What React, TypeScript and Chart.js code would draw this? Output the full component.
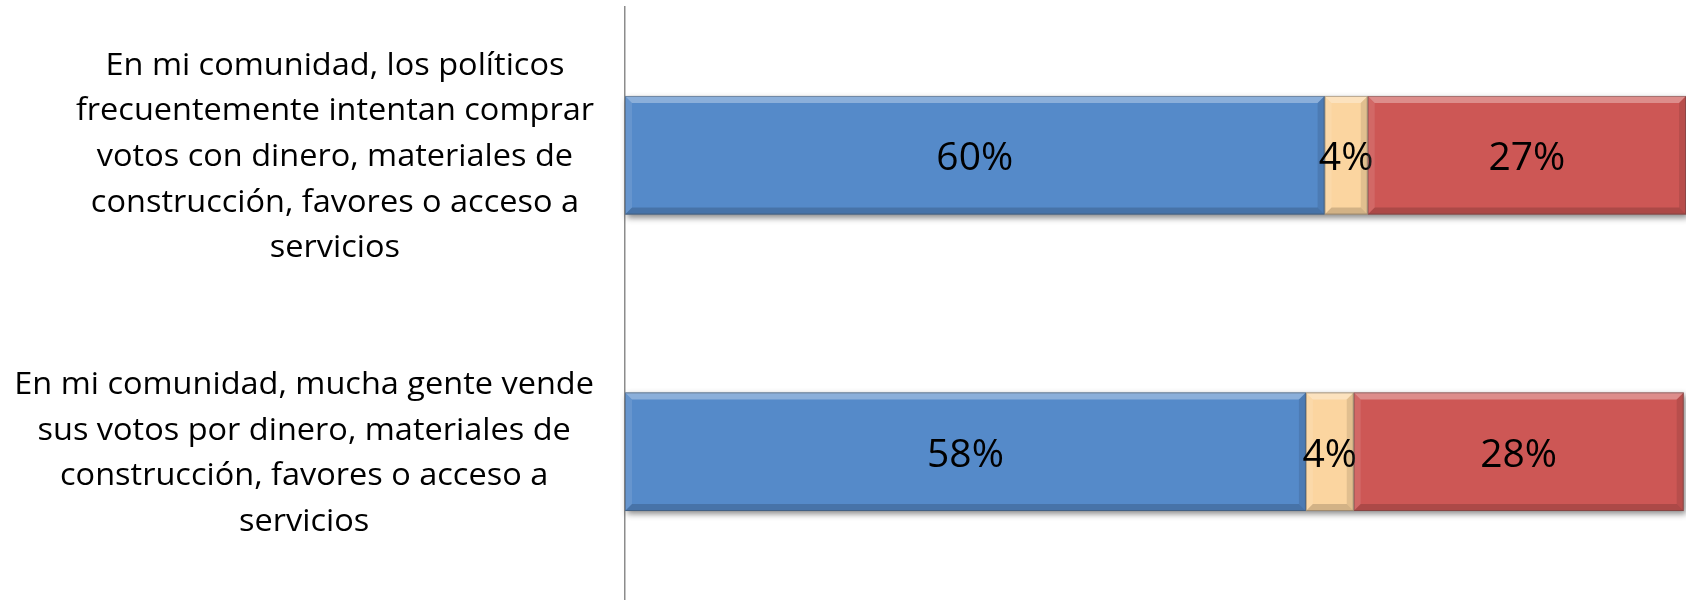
import React, { useEffect, useRef } from "react";
import { Chart, registerables } from "chart.js";

Chart.register(...registerables);

const categories: string[][] = [
  ["En mi comunidad, los políticos", "frecuentemente intentan comprar", "votos con dinero, materiales de", "construcción, favores o acceso a", "servicios"],
  ["En mi comunidad, mucha gente vende", "sus votos por dinero, materiales de", "construcción, favores o acceso a", "servicios"],
];
const seriesNames = ["Sí", "No sabe", "No"];
const blueValues = [60.0, 58.4];
const peachValues = [3.7, 4.1];
const redValues = [27.3, 28.3];
const axisMax = 91;

const FONT = "'Open Sans', Lato, sans-serif";

const bevelPlugin = {
  id: "bevelAndLabels",
  beforeDatasetsDraw(chart: any) {
    const ctx = chart.ctx;
    const metas = chart.getSortedVisibleDatasetMetas();
    const n = chart.data.labels.length;
    for (let i = 0; i < n; i++) {
      let minX = Infinity, maxX = -Infinity, top = 0, bottom = 0;
      metas.forEach((m: any) => {
        const el = m.data[i];
        const p = el.getProps(["x", "y", "base", "height"], true);
        minX = Math.min(minX, p.base, p.x);
        maxX = Math.max(maxX, p.base, p.x);
        top = p.y - p.height / 2;
        bottom = p.y + p.height / 2;
      });
      ctx.save();
      ctx.shadowColor = "rgba(0,0,0,0.45)";
      ctx.shadowBlur = 6;
      ctx.shadowOffsetX = 2;
      ctx.shadowOffsetY = 3;
      ctx.fillStyle = "#888";
      ctx.fillRect(minX, top, maxX - minX, bottom - top);
      ctx.restore();
    }
  },
  afterDatasetsDraw(chart: any) {
    const ctx = chart.ctx;
    const metas = chart.getSortedVisibleDatasetMetas();
    metas.forEach((m: any) => {
      m.data.forEach((el: any, idx: number) => {
        const p = el.getProps(["x", "y", "base", "height"], true);
        const x0 = Math.min(p.base, p.x);
        const x1 = Math.max(p.base, p.x);
        const y0 = p.y - p.height / 2;
        const y1 = p.y + p.height / 2;
        const b = 7;
        ctx.save();
        const poly = (pts: number[][], fill: string) => {
          ctx.beginPath();
          ctx.moveTo(pts[0][0], pts[0][1]);
          for (let k = 1; k < pts.length; k++) ctx.lineTo(pts[k][0], pts[k][1]);
          ctx.closePath();
          ctx.fillStyle = fill;
          ctx.fill();
        };
        poly([[x0, y0], [x1, y0], [x1 - b, y0 + b], [x0 + b, y0 + b]], "rgba(255,255,255,0.32)");
        poly([[x0, y0], [x0 + b, y0 + b], [x0 + b, y1 - b], [x0, y1]], "rgba(255,255,255,0.10)");
        poly([[x0, y1], [x0 + b, y1 - b], [x1 - b, y1 - b], [x1, y1]], "rgba(0,0,0,0.16)");
        poly([[x1, y0], [x1, y1], [x1 - b, y1 - b], [x1 - b, y0 + b]], "rgba(0,0,0,0.10)");
        ctx.strokeStyle = "rgba(60,60,60,0.35)";
        ctx.lineWidth = 1;
        ctx.strokeRect(x0 + 0.5, y0 + 0.5, x1 - x0 - 1, y1 - y0 - 1);
        ctx.restore();

        const v = chart.data.datasets[m.index].data[idx];
        ctx.save();
        ctx.font = `39px ${FONT}`;
        ctx.fillStyle = "#000";
        ctx.textAlign = "center";
        ctx.textBaseline = "middle";
        ctx.fillText(`${Math.round(v)}%`, (x0 + x1) / 2, p.y + 4);
        ctx.restore();
      });
    });
  },
  afterDraw(chart: any) {
    const ctx = chart.ctx;
    const yScale = chart.scales.y;
    const lineH = 45.7;
    const rightEdge = 594;
    ctx.save();
    ctx.font = `31px ${FONT}`;
    ctx.fillStyle = "#000";
    ctx.textAlign = "center";
    ctx.textBaseline = "middle";
    // horizontal stretch so the first line spans the same width as in the reference
    const sx = 459 / ctx.measureText(categories[0][0]).width;
    categories.forEach((lines, i) => {
      const cy = yScale.getPixelForValue(i) + 2;
      const widest = Math.max(...lines.map((l) => ctx.measureText(l).width)) * sx;
      const cx = rightEdge - widest / 2;
      const startY = cy - ((lines.length - 1) * lineH) / 2;
      lines.forEach((l, k) => {
        ctx.save();
        ctx.translate(cx, startY + k * lineH);
        ctx.scale(sx, 1);
        ctx.fillText(l, 0, 0);
        ctx.restore();
      });
    });
    ctx.restore();
  },
};

export default function App() {
  const ref = useRef<HTMLCanvasElement | null>(null);
  useEffect(() => {
    document.body.style.margin = "0";
    let chart: Chart | null = null;
    let cancelled = false;
    const make = () => {
      if (cancelled || !ref.current) return;
      chart = new Chart(ref.current, {
        type: "bar",
        data: {
          labels: categories.map((c) => c.join(" ")),
          datasets: [
            { label: seriesNames[0], data: blueValues, backgroundColor: "#558AC9" },
            { label: seriesNames[1], data: peachValues, backgroundColor: "#FBD5A0" },
            { label: seriesNames[2], data: redValues, backgroundColor: "#CD5755" },
          ],
        },
        options: {
          indexAxis: "y",
          animation: false,
          responsive: false,
          maintainAspectRatio: false,
          layout: { padding: { left: 625, top: 7, right: 0, bottom: 0 } },
          plugins: { legend: { display: false }, tooltip: { enabled: false } },
          datasets: { bar: { categoryPercentage: 1, barPercentage: 0.4 } },
          scales: {
            x: {
              stacked: true,
              min: 0,
              max: axisMax,
              display: false,
            },
            y: {
              stacked: true,
              ticks: { display: false },
              grid: { display: false, drawTicks: false },
              border: { display: true, color: "#8C8C8C", width: 1.5 },
            },
          },
        },
        plugins: [bevelPlugin],
      });
    };
    const fonts: any = (document as any).fonts;
    if (fonts && fonts.load) {
      Promise.all([fonts.load(`31px 'Open Sans'`), fonts.load(`39px 'Open Sans'`)]).then(make, make);
    } else make();
    return () => {
      cancelled = true;
      if (chart) chart.destroy();
    };
  }, []);
  return (
    <div style={{ width: 1686, height: 600, background: "#fff" }}>
      <canvas ref={ref} width={1686} height={600} style={{ display: "block" }} />
    </div>
  );
}
